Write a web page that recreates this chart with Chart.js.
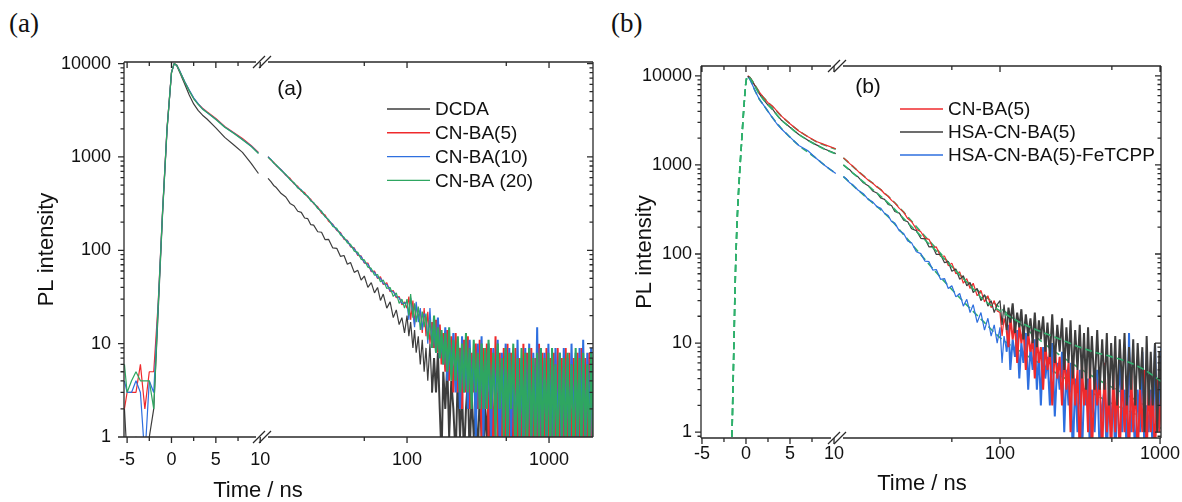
<!DOCTYPE html>
<html>
<head>
<meta charset="utf-8">
<script src="https://cdn.jsdelivr.net/npm/chart.js@4.4.1/dist/chart.umd.min.js"></script>
<style>
  body { margin: 0; background: #fff; }
  #page { position: relative; width: 1182px; height: 502px; overflow: hidden; }
  canvas { position: absolute; top: 0; }
  .tag { position: absolute; top: 10px; font: 27px "Liberation Serif", serif; color: #111; line-height: 1; }
</style>
</head>
<body>
<div id="page">
  <span class="tag" style="left:9px">(a)</span>
  <span class="tag" style="left:611px">(b)</span>
  <canvas id="chartA" width="598" height="502" style="left:0"></canvas>
  <canvas id="chartB" width="584" height="502" style="left:598px"></canvas>
</div>
<script>
// time axes (ns): linear part before the break, log part after it
const tLinA = [-5.3,-5,-4.5,-4,-3.5,-3,-2.5,-2,-1.5,-1,-0.5,0,0.3,0.6,1,1.5,2,2.5,3,3.5,4,5,6,7,8,9,9.8];
const tLinB = [0.2,0.5,1,1.5,2,2.5,3,3.5,4,5,6,7,8,9,10.2];
const tLog = [10.5,11,11.5,12,13,14,15,16,17,18, 19,20,21,22,23.5,25,26.5,28,30,32,
  34,36,38,40,42.5,45,47.5,50,53,56, 59,62,65,68,72,76,80,84,88,92, 96,
  100,103,106,110,113,116,120,124,128,132, 136,140,145,150,155,160,165,170,175,180,
  186,192,198,205,212,220,228,236,244,252, 260,268,276,285,295,305,315,325,335,345,
  355,365,375,390,405,420,435,450,465,480, 495,510,525,540,560,580,600,620,640,660,
  680,700,725,750,775,800,825,850,875,900, 930,960,990,1020,1050,1080,1110,1150,1190,1230,
  1270,1310,1350,1390,1440,1490,1540,1590,1640,1690, 1740,1800,1860,1920,1980,2040];
const tFitLin = [-1.7,-1.6,-1.4,-1.2,-1,-0.8,-0.5,-0.2,0,0.2,0.5,1,1.5,2,3,4,5,6,7,8,9,10.2];
const tFitLog = [10.5,13,16,20,25,32,40,50,63,80,100,130,170,220,300,400,500,650,800,1020];

// panel (a) counts
const namesA = ['DCDA', 'CN-BA(5)', 'CN-BA(10)', 'CN-BA (20)'];
const dcdaLin = [2,0.6,0.6,1,0.6,0.6,1,2,22,250,1950,7900,10000,9500,7800,6000,4600,3700,3150,2800,2550,2050,1620,1350,1120,850,665];
const cnba5Lin = [2,3,3,3,6,2,5,5,27,270,2050,8100,10000,9650,8050,6350,5150,4250,3700,3320,3050,2580,2120,1830,1580,1320,1120];
const cnba10Lin = [4,3,3,4,3,0.6,4,3,26,265,2020,8050,9950,9600,8100,6400,5200,4300,3720,3280,3000,2540,2090,1810,1540,1300,1100];
const cnba20Lin = [6,3,4,5,4,4,4,2,25,260,2000,8000,10000,9600,8000,6300,5100,4200,3650,3250,3000,2520,2080,1790,1530,1290,1090];

const dcdaLog = [590,545,495,470,405,372,318,300,262,255, 222,218,188,186,158,156,130,131,106,105,
  86,88,71,74,58,61,48,53,40,45, 35,40,29,34,24,28,19,23,16,19, 13,
  20,12,17,9,14,8,12,6,11,5, 9,4,10,3,7,3,8,2,0.6,5, 2,6,1,4,2,0.6,5,1,3,0.6,
  2,4,0.6,3,1,2,0.6,3,1,0.6, 2,1,3,0.6,2,1,0.6,2,1,0.6, 2,0.6,1,2,0.6,1,2,0.6,3,1,
  0.6,2,1,0.6,2,1,0.6,2,0.6,1, 2,0.6,1,2,0.6,1,0.6,2,1,0.6, 2,0.6,1,0.6,2,1,0.6,2,0.6,1,
  2,0.6,1,0.6,2,1];
const cnba5Log = [1010,925,880,805,730,635,590,515,485,430, 415,370,352,315,292,250,238,205,190,163,
  155,131,128,109,106,88,87,73,73,59, 60,50,52,43,45,36,37,31,32,26, 28,
  24,32,18,29,16,26,19,23,13,24, 12,22,10,17,9,18,8,16,6,13, 5,14,4,12,3,13,3,9,2,11,
  3,12,2,8,3,10,2,11,1,9, 2,10,1,9,0.6,12,1,8,0.6,9, 1,10,0.6,8,1,9,0.6,7,1,10,
  0.6,8,1,9,0.6,7,1,10,0.6,8, 1,9,0.6,7,1,8,0.6,9,1,7, 0.6,9,1,8,0.6,7,1,8,0.6,9,
  1,7,0.6,8,1,7];
const cnba10Log = [1005,940,865,815,725,645,575,525,470,445, 400,378,342,322,284,260,230,212,187,166,
  152,134,126,111,104,90,86,74,71,60, 58,51,50,44,43,37,36,32,31,27, 27,
  28,18,31,21,15,28,17,24,14,21, 19,10,24,9,16,8,19,7,12,6, 15,4,11,5,13,3,10,2,12,3,
  9,2,11,3,8,1,10,2,12,1, 8,2,10,1,9,2,11,0.6,8,2, 10,0.6,9,1,8,0.6,11,1,7,0.6,
  9,1,10,0.6,8,1,15,0.6,9,1, 8,0.6,10,1,7,0.6,9,1,8,0.6, 9,1,7,0.6,10,1,8,0.6,9,1,
  11,0.6,8,1,9,0.6];
const cnba20Log = [990,935,860,820,715,650,570,530,465,440, 398,380,338,325,280,262,228,214,180,172,
  146,138,120,116,98,95,80,79,66,64, 54,55,46,48,39,40,32,35,27,30, 24,
  30,20,34,19,27,17,25,14,22,15, 21,11,18,9,20,8,15,7,14,6, 13,5,15,4,11,4,12,3,10,3,
  13,3,9,2,11,3,8,2,10,2, 9,2,11,2,8,1,10,2,7,1, 9,1,8,2,10,0.6,7,1,9,1,
  8,0.6,9,1,7,0.6,8,1,9,0.6, 7,1,8,0.6,9,1,6,0.6,8,1, 7,0.6,8,1,6,0.6,9,1,7,0.6,
  8,1,6,0.6,8,1];

// panel (b) counts
const namesB = ['CN-BA(5)', 'HSA-CN-BA(5)', 'HSA-CN-BA(5)-FeTCPP'];
const bCnbaLin = [10000,9500,7900,6600,5700,5000,4600,4050,3550,2900,2400,2080,1830,1680,1520];
const bHsaLin = [9900,9400,7800,6300,5400,4700,4250,3650,3200,2650,2200,1900,1680,1500,1340];
const bFeLin = [9800,9000,6900,5500,4700,4000,3400,2900,2550,2050,1650,1450,1180,980,800];
const bCnbaLog = [1200,1125,1035,975,845,755,675,625,565,530, 475,445,400,375,325,295,250,232,190,178,
  150,146,118,120,94,95,74,79,60,63, 47,53,41,47,34,39,29,34,25,30, 23,
  22,12,19,14,9,20,11,17,6,16, 10,15,5,13,8,11,4,12,6,9, 3,10,5,8,2,9,4,7,2,8,
  3,6,1,7,2,5,0.5,6,2,4, 1,6,0.5,5,2,4,0.5,6,1,3, 0.5,5,1,4,0.5,5,1,3,0.5,5,
  1,4,0.5,3,1,5,0.5,4,1,3, 0.5,4,1,3];
const bHsaLog = [1000,935,885,810,730,630,585,510,485,425, 410,360,350,300,288,240,230,192,183,150,
  148,120,121,99,99,80,82,64,68,52, 57,44,48,37,41,30,35,26,30,22, 27,
  30,16,27,14,25,17,28,13,22,15, 24,11,21,12,19,10,22,9,18,11, 20,8,17,7,21,6,16,8,19,5,
  15,6,18,4,14,5,16,4,13,3, 15,4,12,3,14,3,11,3,13,2, 10,3,12,2,11,3,13,2,9,3,
  11,2,10,3,9,1,12,2,8,2, 10,1,8,2];
const bFeLog = [740,695,630,600,520,475,410,385,340,325, 285,270,232,222,182,170,140,134,106,101,
  83,82,66,67,52,53,41,44,33,36, 26,31,22,27,17,22,14,19,12,16, 10,
  15,6,12,8,16,5,11,7,14,4, 10,6,13,3,9,5,11,3,8,2, 9,4,7,2,10,1.5,6,3,8,1,
  5,2,6,0.5,4,1,5,0.5,3,2, 4,0.5,3,1,5,0.5,2,3,0.5,4, 1,3,0.5,2,6,1,3,0.5,13,1,
  2,0.5,3,1,8,0.5,2,1,3,0.5, 10,1,2,9];

// fitted decays (dashed)
const fitCnbaLin = [0.5,0.9,7,60,240,600,1800,5000,8500,9900,9400,7900,6600,5700,4500,3550,2900,2420,2080,1820,1660,1500];
const fitHsaLin = [0.5,0.9,7,60,240,600,1800,5000,8500,9850,9300,7700,6300,5400,4200,3200,2650,2200,1900,1670,1490,1330];
const fitFeLin = [0.5,0.9,7,60,240,600,1800,5000,8500,9800,8900,6900,5500,4700,3400,2580,2050,1660,1400,1180,980,800];
const fitCnbaLog = [1200,850,625,445,295,178,115,73,48,34,25,17,11.5,8,5.5,4,3.2,2.5,2,1.6];
const fitHsaLog = [1000,720,530,375,250,160,108,72,47,30,23,17.5,14,11.7,9.3,7.8,7,6,5,3.7];
const fitFeLog = [740,520,375,262,165,98,62,40,26,17,11.5,8.3,6.2,4.7,3.4,2.6,2.1,1.7,1.4,1.1];

// tick labels
const xLinTicks = [-5, 0, 5, 10];
const xLinMinor = [-2.5, 2.5, 7.5];
const xLogTicks = [100, 1000];
const xLogMinor = [50, 500];
const yTicks = [1, 10, 100, 1000, 10000];

const GRAY = '#3d3d3d', RED = '#ef2a2c', BLUE = '#2e6fdf', GREEN = '#2ea661', FIT = '#2fb06c';
const FONT = "'Liberation Sans', Arial, sans-serif";

function pts(ts, vs) {
  return vs.map((v, i) => ({x: ts[i], y: v}));
}

function trace(label, color, ts, vs, axis, order, extra) {
  return Object.assign({
    label, data: pts(ts, vs), xAxisID: axis, order,
    borderColor: color, borderWidth: 1.2, borderJoinStyle: 'bevel',
    pointRadius: 0, tension: 0, fill: false
  }, extra || {});
}

// the dense noisy tail is drawn a little heavier so it reads as a filled band
function tail(from) {
  return {segment: {borderWidth: c => (c.p0.parsed.x >= from ? 2 : 1.2)}};
}

// frame, mirrored ticks, axis break, legend and labels
const panelPlugin = {
  id: 'panel',
  afterDatasetsDraw(chart, args, o) {
    const {ctx, chartArea: a, scales} = chart;
    const xl = scales.xl, xg = scales.xg, y = scales.y;
    const brk = xl.right;
    ctx.save();
    ctx.strokeStyle = '#2a2a2a';
    ctx.lineWidth = 1.3;
    ctx.beginPath();
    ctx.moveTo(a.left, a.top); ctx.lineTo(a.left, a.bottom);
    ctx.moveTo(a.right, a.top); ctx.lineTo(a.right, a.bottom);
    [a.top, a.bottom].forEach(yy => {
      ctx.moveTo(a.left, yy); ctx.lineTo(brk - 6, yy);
      ctx.moveTo(brk + 6, yy); ctx.lineTo(a.right, yy);
    });
    const xt = [];
    xLinTicks.forEach(v => xt.push([xl.getPixelForValue(v), 6]));
    xLinMinor.forEach(v => xt.push([xl.getPixelForValue(v), 4]));
    xLogTicks.forEach(v => xt.push([xg.getPixelForValue(v), 6]));
    xLogMinor.forEach(v => xt.push([xg.getPixelForValue(v), 4]));
    xt.forEach(([px, len]) => {
      ctx.moveTo(px, a.bottom); ctx.lineTo(px, a.bottom + len);
      ctx.moveTo(px, a.top); ctx.lineTo(px, a.top + len);
    });
    for (let e = -1; e <= 4; e++) {
      for (let m = 1; m <= 9; m++) {
        const v = m * Math.pow(10, e);
        if (v < y.min || v > y.max) continue;
        const py = y.getPixelForValue(v);
        const len = m === 1 ? 6 : 3.5;
        ctx.moveTo(a.left - len, py); ctx.lineTo(a.left, py);
        ctx.moveTo(a.right - len, py); ctx.lineTo(a.right, py);
      }
    }
    ctx.stroke();
    // break marks
    ctx.beginPath();
    [a.top, a.bottom].forEach(yy => {
      [-3, 3].forEach(dx => {
        ctx.moveTo(brk + dx - 6, yy + 6);
        ctx.lineTo(brk + dx + 6, yy - 6);
      });
    });
    ctx.stroke();

    // legend
    ctx.font = '19px ' + FONT;
    ctx.textBaseline = 'middle';
    ctx.textAlign = 'left';
    o.legend.forEach((it, i) => {
      const yy = o.legendY + i * o.legendGap;
      ctx.strokeStyle = it.color;
      ctx.lineWidth = 1.4;
      ctx.beginPath();
      ctx.moveTo(o.legendX, yy); ctx.lineTo(o.legendX + 43, yy);
      ctx.stroke();
      ctx.fillStyle = '#111';
      ctx.fillText(it.label, o.legendX + 48, yy + 1);
    });

    ctx.textAlign = 'center';
    ctx.font = '21px ' + FONT;
    ctx.fillText(o.tag, o.tagX, o.tagY);
    ctx.font = '22px ' + FONT;
    ctx.fillText('Time / ns', o.titleX, o.titleY);
    ctx.restore();
  }
};

function makeOptions(p) {
  const tickFont = {family: FONT, size: 18};
  return {
    responsive: false, animation: false, devicePixelRatio: 1,
    layout: {padding: {left: 30, top: p.top, right: p.right, bottom: 0}},
    plugins: {legend: {display: false}, tooltip: {enabled: false}, panel: p.panel},
    scales: {
      xl: {
        type: 'linear', axis: 'x', position: 'bottom', stack: 'time', stackWeight: p.wLin,
        min: p.linMin, max: p.linMax,
        grid: {display: false, tickLength: p.xTick}, border: {display: false},
        afterBuildTicks: s => { s.ticks = xLinTicks.map(v => ({value: v})); },
        afterFit: s => { s.height = p.xh; s.paddingLeft = 0; s.paddingRight = 0; },
        ticks: {padding: p.xPad, color: '#111', font: tickFont, maxRotation: 0, autoSkip: false,
          callback: v => String(v)}
      },
      xg: {
        type: 'logarithmic', axis: 'x', position: 'bottom', stack: 'time', stackWeight: p.wLog,
        min: p.logMin, max: p.logMax,
        grid: {display: false, tickLength: p.xTick}, border: {display: false},
        afterBuildTicks: s => { s.ticks = xLogTicks.map(v => ({value: v})); },
        afterFit: s => { s.height = p.xh; s.paddingLeft = 0; s.paddingRight = 0; },
        ticks: {padding: p.xPad, color: '#111', font: tickFont, maxRotation: 0, autoSkip: false,
          callback: v => String(v)}
      },
      y: {
        type: 'logarithmic', position: 'left', min: p.yMin, max: p.yMax,
        grid: {display: false, tickLength: p.yTick}, border: {display: false},
        afterBuildTicks: s => { s.ticks = yTicks.map(v => ({value: v})); },
        afterFit: s => { s.width = p.yw; s.paddingTop = 0; s.paddingBottom = 0; },
        ticks: {padding: p.yPad, color: '#111', font: tickFont, callback: v => String(v)},
        title: {display: true, text: 'PL intensity', color: '#111',
          font: {family: FONT, size: 22}, padding: {top: 4, bottom: 4}}
      }
    }
  };
}

// panel (a)
const colorsA = [GRAY, RED, BLUE, GREEN];
const linA = [dcdaLin, cnba5Lin, cnba10Lin, cnba20Lin];
const logA = [dcdaLog, cnba5Log, cnba10Log, cnba20Log];
const dsA = [];
namesA.forEach((name, i) => {
  dsA.push(trace(name, colorsA[i], tLinA, linA[i], 'xl', 3 - i));
  dsA.push(trace(name, colorsA[i], tLog, logA[i], 'xg', 3 - i, tail(150)));
});

Chart.register(panelPlugin);

new Chart(document.getElementById('chartA'), {
  type: 'line',
  data: {datasets: dsA},
  options: makeOptions({
    top: 62, right: 5, yw: 94, xh: 65,
    wLin: 138, wLog: 331, linMin: -5.35, linMax: 10.2, logMin: 9.52, logMax: 2040,
    yMin: 1, yMax: 10400, xTick: 6, xPad: 6, yTick: 6, yPad: 7,
    panel: {
      legend: namesA.map((n, i) => ({label: n, color: colorsA[i]})),
      legendX: 387, legendY: 109, legendGap: 23.8,
      tag: '(a)', tagX: 290, tagY: 89, titleX: 258, titleY: 491
    }
  })
});

// panel (b): the HSA trace sits on top of the bare CN-BA(5) trace
const colorsB = [RED, GRAY, BLUE];
const dashed = {borderColor: FIT, borderWidth: 1.6, borderDash: [7, 4], cubicInterpolationMode: 'monotone'};
const dsB = [
  trace('fit', FIT, tFitLin, fitHsaLin, 'xl', 0, dashed),
  trace('fit', FIT, tFitLog, fitHsaLog, 'xg', 0, dashed),
  trace(namesB[1], GRAY, tLinB, bHsaLin, 'xl', 1),
  trace(namesB[1], GRAY, tLog, bHsaLog, 'xg', 1, tail(110)),
  trace(namesB[0], RED, tLinB, bCnbaLin, 'xl', 2),
  trace(namesB[0], RED, tLog, bCnbaLog, 'xg', 2, tail(110)),
  trace(namesB[2], BLUE, tLinB, bFeLin, 'xl', 3),
  trace(namesB[2], BLUE, tLog, bFeLog, 'xg', 3, tail(110)),
  trace('fit', FIT, tFitLin, fitCnbaLin, 'xl', 4, dashed),
  trace('fit', FIT, tFitLog, fitCnbaLog, 'xg', 4, dashed),
  trace('fit', FIT, tFitLin, fitFeLin, 'xl', 5, dashed),
  trace('fit', FIT, tFitLog, fitFeLog, 'xg', 5, dashed)
];

new Chart(document.getElementById('chartB'), {
  type: 'line',
  data: {datasets: dsB},
  options: makeOptions({
    top: 66, right: 21, yw: 73, xh: 64,
    wLin: 136, wLog: 324, linMin: -5.11, linMax: 10.34, logMin: 9.58, logMax: 1014,
    yMin: 0.86, yMax: 12900, xTick: 5, xPad: 0, yTick: 5, yPad: 4,
    panel: {
      legend: namesB.map((n, i) => ({label: n, color: colorsB[i]})),
      legendX: 302, legendY: 109, legendGap: 23,
      tag: '(b)', tagX: 270, tagY: 87, titleX: 324, titleY: 484
    }
  })
});
</script>
</body>
</html>
